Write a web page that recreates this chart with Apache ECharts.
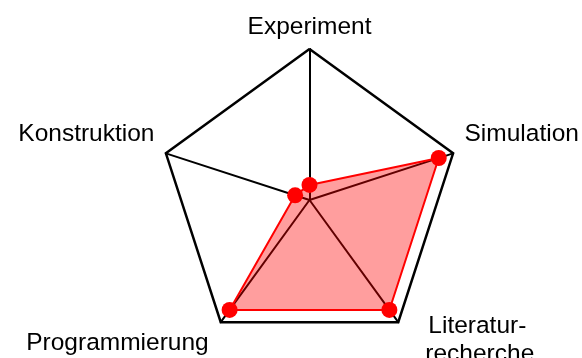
<!DOCTYPE html>
<html>
<head>
<meta charset="utf-8">
<script src="https://cdn.jsdelivr.net/npm/echarts@6/dist/echarts.min.js"></script>
<style>
  html, body { margin: 0; padding: 0; background: #fff; }
  #chart { width: 582px; height: 358px; }
</style>
</head>
<body>
<div id="chart"></div>
<script>
// indicators go counter-clockwise from the top
var indicatorNames = ['Experiment', 'Konstruktion', 'Programmierung', 'Literatur-\nrecherche', 'Simulation'];
var indicatorMax = [1, 1, 1, 1, 1];
var values = [0.1, 0.1, 0.9, 0.9, 0.9];

var FONT = 'Liberation Sans';
var FS = 24.5;

function txt(extra) {
  var s = { fontFamily: FONT, fontSize: FS, color: '#000' };
  for (var k in extra) s[k] = extra[k];
  return s;
}

// nudge each name so it sits where the reference has it
function nameFormatter(name) {
  switch (name) {
    case 'Experiment':
      return '{top|' + name + '}';
    case 'Konstruktion':
    case 'Simulation':
      return '{side|' + name + '}\n{gapU| }';
    case 'Programmierung':
      return '{gapD| }\n{prog|' + name + '}';
    default:
      var parts = name.split('\n');
      return '{l1|' + parts[0] + '}\n{l2|' + parts[1] + '}';
  }
}

var chart = echarts.init(document.getElementById('chart'));

chart.setOption({
  animation: false,
  radar: {
    center: [309.5, 200],
    radius: 151,
    startAngle: 90,
    splitNumber: 1,
    nameGap: 12,
    shape: 'polygon',
    indicator: indicatorNames.map(function (n, i) {
      return { name: n, max: indicatorMax[i], min: 0 };
    }),
    axisName: {
      color: '#000',
      fontFamily: FONT,
      fontSize: FS,
      formatter: nameFormatter,
      rich: {
        top: txt({ lineHeight: 20 }),
        side: txt({ lineHeight: 24 }),
        gapU: txt({ lineHeight: 30 }),
        gapD: txt({ lineHeight: 22 }),
        prog: txt({ lineHeight: 24, padding: [0, 5, 0, 0] }),
        l1: txt({ lineHeight: 44, padding: [0, 0, 0, 23] }),
        l2: txt({ lineHeight: 12, padding: [0, 0, 0, 20] })
      }
    },
    axisLine: { lineStyle: { color: '#000', width: 2 } },
    splitLine: { lineStyle: { color: '#000', width: 2.5 } },
    splitArea: { show: false },
    axisTick: { show: false },
    axisLabel: { show: false }
  },
  series: [{
    type: 'radar',
    symbol: 'circle',
    symbolSize: 16,
    lineStyle: { color: '#ff0000', width: 2 },
    itemStyle: { color: '#ff0000' },
    areaStyle: { color: '#ff0000', opacity: 0.38 },
    data: [{ value: values }]
  }]
});
</script>
</body>
</html>
